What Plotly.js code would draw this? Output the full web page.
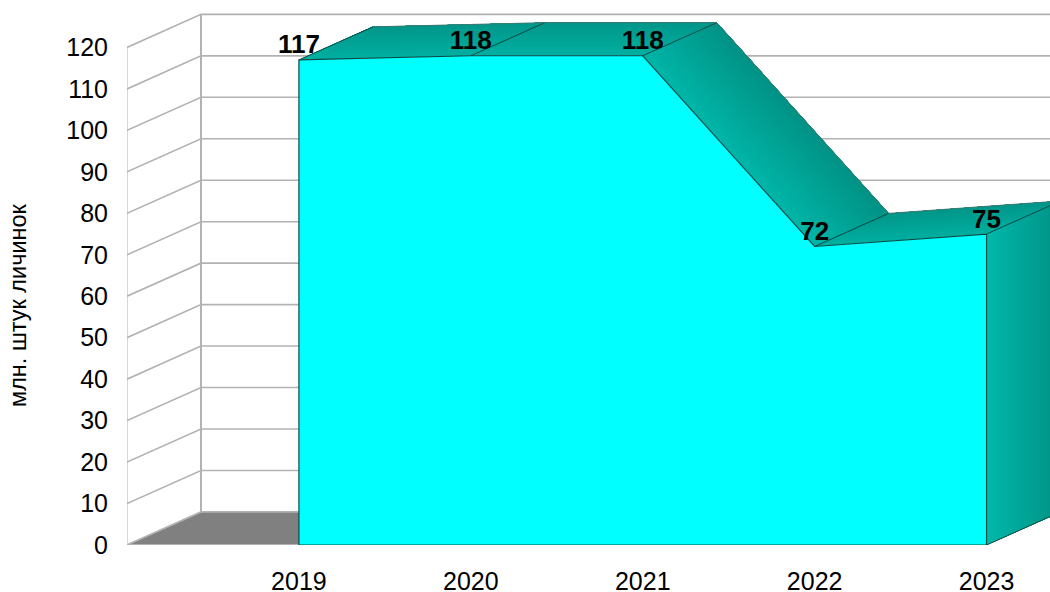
<!DOCTYPE html>
<html>
<head>
<meta charset="utf-8">
<script src="https://cdn.plot.ly/plotly-3.0.1.min.js"></script>
<style>html,body{margin:0;padding:0;background:#fff}#c{width:1050px;height:592px}</style>
</head>
<body>
<div id="c"></div>
<script>
const years = [2019, 2020, 2021, 2022, 2023];
const values = [117, 118, 118, 72, 75];
const yTicks = [0,10,20,30,40,50,60,70,80,90,100,110,120];
const yTitle = "млн. штук личинок";

// Oblique depth of the 3D box, in axis units
const DX = 0.4305, DY = 7.98;
const X0 = 2018, XN = 2023.369, YMAX = 131.45;
const GRID = '#b2b2b2', EDGE = '#0d4a45', FLOOR = '#808080', FRONT = '#00ffff';
const BANDS = 40;

const traces = [];
const base = {type:'scatter', mode:'lines', hoverinfo:'skip', showlegend:false, cliponaxis:false};

function poly(xs, ys, fill, line, w){
  traces.push(Object.assign({}, base, {x:xs, y:ys, fill:'toself', fillcolor:fill,
    line:{color:line||fill, width:w===undefined?1:w}}));
}
function lines(xs, ys, color, w){
  traces.push(Object.assign({}, base, {x:xs, y:ys, connectgaps:false, line:{color:color, width:w}}));
}
function mix(a,b,t){
  return 'rgb('+a.map((v,i)=>Math.round(v+(b[i]-v)*t)).join(',')+')';
}
// A face swept from edge P-Q towards the back; shaded by depth.
// Each band reaches the back edge and the next one paints over it, so no seams show.
function face(px,py,qx,qy,c0,c1){
  for(let i=0;i<BANDS;i++){
    const a=i/BANDS, col=mix(c0,c1,(i+0.5)/BANDS);
    poly([px+a*DX,qx+a*DX,qx+DX,px+DX,px+a*DX],
         [py+a*DY,qy+a*DY,qy+DY,py+DY,py+a*DY],col,col,0);
  }
}

// Floor
poly([X0,years[4],years[4]+DX,X0+DX,X0],[0,0,DY,DY,0],FLOOR,FLOOR,0);

// Walls and grid
const gx=[],gy=[];
yTicks.forEach(v=>{
  gx.push(X0,X0+DX,XN+1,null);
  gy.push(v,v+DY,v+DY,null);
});
lines(gx,gy,GRID,1.6);
lines([X0,X0],[yTicks[0],yTicks[12]],GRID,1);
lines([X0+DX,X0+DX],[DY,yTicks[12]+DY],GRID,2);
lines([X0,years[4]],[0,0],GRID,2);

// Top surfaces, front to back along the axis
const FLAT=[[0,176,162],[0,150,137]], SLOPE=[[0,182,168],[0,146,133]], SIDE=[[0,184,170],[0,146,133]];
for(let i=0;i<years.length-1;i++){
  const steep=Math.abs(values[i+1]-values[i])>10;
  const c=steep?SLOPE:FLAT;
  face(years[i],values[i],years[i+1],values[i+1],c[0],c[1]);
}
// Right-hand side
face(years[4],values[4],years[4],0,SIDE[0],SIDE[1]);

// Front face
const fx=[years[0]].concat(years,[years[4],years[0]]);
const fy=[0].concat(values,[0,0]);
poly(fx,fy,FRONT,EDGE,1.2);

// Depth edges and back edge
const ex=[],ey=[];
years.forEach((y,i)=>{ex.push(y,y+DX,null);ey.push(values[i],values[i]+DY,null);});
ex.push(years[4],years[4]+DX,null);ey.push(0,DY,null);
lines(ex,ey,EDGE,1);
lines(years.map(y=>y+DX),values.map(v=>v+DY),'#3f7a74',1);

// Value labels
traces.push({type:'scatter',mode:'text',x:years,y:values,text:values.map(String),
  textposition:'top center',textfont:{family:'"Liberation Sans",Arial,sans-serif',size:26,color:'#000',weight:700},
  hoverinfo:'skip',showlegend:false,cliponaxis:false});

const layout={
  width:1050,height:592,showlegend:false,hovermode:false,
  paper_bgcolor:'#fff',plot_bgcolor:'#fff',
  margin:{l:127,r:0,t:0,b:47,pad:0},
  font:{family:'"Liberation Sans",Arial,sans-serif',color:'#000',size:25},
  xaxis:{range:[X0,XN],tickmode:'array',tickvals:years,ticktext:years.map(String),
    showgrid:false,zeroline:false,showline:false,ticks:'outside',ticklen:14,tickcolor:'rgba(0,0,0,0)',
    tickfont:{size:25}},
  yaxis:{range:[0,YMAX],tickmode:'array',tickvals:yTicks,ticktext:yTicks.map(String),
    showgrid:false,zeroline:false,showline:false,ticks:'outside',ticklen:13,tickcolor:'rgba(0,0,0,0)',
    tickfont:{size:25},automargin:false},
  annotations:[{text:yTitle,textangle:-90,xref:'paper',yref:'paper',x:0,y:(545-305)/545,
    xanchor:'center',yanchor:'middle',xshift:-109,showarrow:false,font:{size:23.5,color:'#000'}}]
};
Plotly.newPlot('c',traces,layout,{staticPlot:true,displayModeBar:false});
</script>
</body>
</html>
